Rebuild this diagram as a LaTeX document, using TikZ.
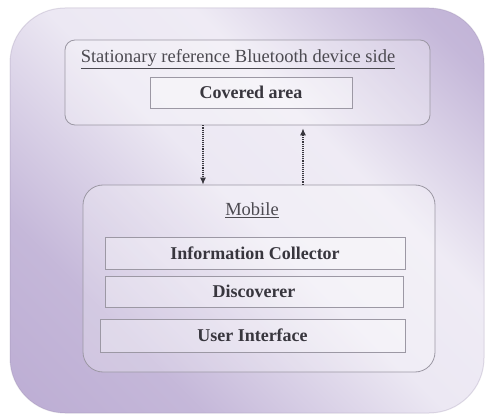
\documentclass[tikz,border=0pt]{standalone}
\usepackage{fontspec}
\setmainfont{Liberation Serif}
\usetikzlibrary{arrows.meta,calc}
\definecolor{lilacdark}{HTML}{B4A3CE}
\definecolor{lilaclight}{HTML}{ECE8F3}
\definecolor{boxline}{HTML}{9C98A4}
\definecolor{txt}{HTML}{38363E}
\pgfdeclarehorizontalshading{bgshade}{100bp}{%
  color(0bp)=(lilacdark); color(30bp)=(lilacdark!70!lilaclight); color(50bp)=(lilaclight); color(62bp)=(lilaclight!85!white); color(80bp)=(lilacdark!70!lilaclight); color(100bp)=(lilacdark)}
\tikzset{
  container/.style={draw=boxline, line width=0.8pt, fill=white, fill opacity=0.25, text opacity=1},
  layerbox/.style={draw=boxline, line width=0.8pt, fill=white, fill opacity=0.3, text opacity=1,
    font=\fontsize{18}{20}\selectfont\bfseries, text=txt},
  titletext/.style={font=\fontsize{18.5}{20}\selectfont, text=txt!90!white},
  arr/.style={densely dotted, line width=1.1pt, draw=txt, -{Latex[length=7pt,width=6pt]}}
}
\begin{document}
\begin{tikzpicture}[x=1pt,y=-1pt]
\useasboundingbox (0,0) rectangle (488,420);
\fill[white] (0,0) rectangle (488,420);
\shade[shading=bgshade, shading angle=45, rounded corners=55pt] (10,8) rectangle (484,413);
\draw[lilacdark!80!black, opacity=0.25, line width=1pt, rounded corners=55pt] (10,8) rectangle (484,413);
% upper container
\node[container, rounded corners=10pt, minimum width=365pt, minimum height=85pt] (upper) at (247.5,82.5) {};
\node[titletext] (uptitle) at (238,59) {\underline{Stationary reference Bluetooth device side}};
\node[layerbox, minimum width=202pt, minimum height=31pt] (covered) at (251,92.5) {Covered area};
% mobile container
\node[container, rounded corners=20pt, minimum width=352pt, minimum height=187pt] (mobile) at (259,278.5) {};
\node[titletext] (mobtitle) at (252,210) {\underline{Mobile}};
\node[layerbox, minimum width=300pt, minimum height=32pt] (info) at (255,253) {Information Collector};
\node[layerbox, minimum width=298pt, minimum height=31pt] (disc) at (254,291.5) {Discoverer};
\node[layerbox, minimum width=305pt, minimum height=33pt] (ui) at (252.5,335.5) {User Interface};
% arrows
\coordinate (la) at (203,150);
\coordinate (ra) at (303,150);
\draw[arr] (la |- upper.south) -- (la |- mobile.north);
\draw[arr] (ra |- mobile.north) -- ($(ra |- upper.south)+(0,3)$);
\end{tikzpicture}
\end{document}
